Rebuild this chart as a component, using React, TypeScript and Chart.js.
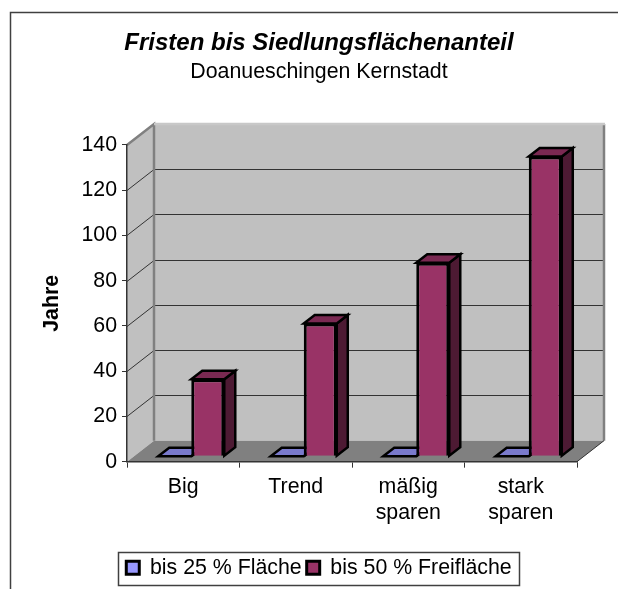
import React, { useEffect, useRef } from "react";
import { Chart, registerables } from "chart.js";

Chart.register(...registerables);

const FONT = "'Liberation Sans', Arial, sans-serif";
const categories = ["Big", "Trend", ["mäßig", "sparen"], ["stark", "sparen"]];
const seriesLow = [0, 0, 0, 0];
const seriesHigh = [34, 58.7, 85.5, 132.5];
const yTicks = [0, 20, 40, 60, 80, 100, 120, 140];

const WALL_DX = 27;
const WALL_DY = -21;
const BAR_DX = 8;
const BAR_DY = -5.5;
const DEPTH_DX = 11;
const DEPTH_DY = -8.5;

function poly(ctx: CanvasRenderingContext2D, pts: number[][], fill?: string, stroke?: string, lw = 1) {
  ctx.beginPath();
  pts.forEach((p, i) => (i ? ctx.lineTo(p[0], p[1]) : ctx.moveTo(p[0], p[1])));
  ctx.closePath();
  if (fill) { ctx.fillStyle = fill; ctx.fill(); }
  if (stroke) { ctx.strokeStyle = stroke; ctx.lineWidth = lw; ctx.lineJoin = "miter"; ctx.stroke(); }
}

function drawDepth(ctx: CanvasRenderingContext2D, meta: any, ds: any) {
  meta.data.forEach((bar: any) => {
    const x0 = bar.x - bar.width / 2, x1 = bar.x + bar.width / 2;
    const t = bar.y, b = bar.base;
    poly(ctx, [[x1, t], [x1 + DEPTH_DX, t + DEPTH_DY], [x1 + DEPTH_DX, b + DEPTH_DY], [x1, b]], ds.sideColor, "#000000", 2.5);
    poly(ctx, [[x0, t], [x0 + DEPTH_DX, t + DEPTH_DY], [x1 + DEPTH_DX, t + DEPTH_DY], [x1, t]], ds.topColor, "#000000", 2.5);
  });
}

const plugin3d = {
  id: "plugin3d",
  afterLayout(chart: any) {
    chart.boxes.forEach((b: any) => {
      if (b.position === "top" && b.options && b.options.text) {
        b.left = 0;
        b.right = 638;
      }
    });
    const l = chart.legend;
    l.left = 118;
    l.right = 520;
    l.top = 552;
    l.bottom = 586;
  },
  beforeDraw(chart: any) {
    const ctx: CanvasRenderingContext2D = chart.ctx;
    const { left, right, top, bottom } = chart.chartArea;
    const y = chart.scales.y;
    ctx.save();
    ctx.strokeStyle = "#404040";
    ctx.lineWidth = 1.5;
    ctx.beginPath();
    ctx.moveTo(10.5, 589);
    ctx.lineTo(10.5, 12.5);
    ctx.lineTo(618, 12.5);
    ctx.stroke();
    const bl = left + WALL_DX, br = right + WALL_DX, bt = top + WALL_DY, bb = bottom + WALL_DY;
    poly(ctx, [[left, top], [bl, bt], [bl, bb], [left, bottom]], "#c0c0c0");
    poly(ctx, [[bl, bt], [br, bt], [br, bb], [bl, bb]], "#c0c0c0");
    poly(ctx, [[left, bottom], [bl, bb], [br, bb], [right, bottom]], "#808080");
    ctx.strokeStyle = "#333333";
    ctx.lineWidth = 1;
    yTicks.slice(1, -1).forEach((v) => {
      const py = Math.round(y.getPixelForValue(v)) + 0.5;
      ctx.beginPath();
      ctx.moveTo(left, py);
      ctx.lineTo(bl, py + WALL_DY);
      ctx.lineTo(br, py + WALL_DY);
      ctx.stroke();
    });
    ctx.strokeStyle = "#808080";
    ctx.lineWidth = 2.5;
    ctx.beginPath();
    ctx.moveTo(left, top);
    ctx.lineTo(bl, bt);
    ctx.lineTo(bl, bb);
    ctx.stroke();
    ctx.beginPath();
    ctx.moveTo(br, bt);
    ctx.lineTo(br, bb);
    ctx.stroke();
    ctx.strokeStyle = "#c8c8c8";
    ctx.beginPath();
    ctx.moveTo(bl, bt);
    ctx.lineTo(br + 1, bt);
    ctx.stroke();
    ctx.strokeStyle = "#333333";
    ctx.lineWidth = 1;
    ctx.beginPath();
    ctx.moveTo(right, bottom);
    ctx.lineTo(br, bb);
    ctx.stroke();
    const l = chart.legend;
    ctx.fillStyle = "#ffffff";
    ctx.fillRect(l.left, l.top, l.right - l.left, l.bottom - l.top);
    ctx.strokeStyle = "#404040";
    ctx.lineWidth = 1.5;
    ctx.strokeRect(l.left + 0.5, l.top + 0.5, l.right - l.left - 1, l.bottom - l.top - 1);
    ctx.restore();
  },
  beforeDatasetDraw(chart: any, args: any) {
    if (args.index === 1) return false;
    const ctx: CanvasRenderingContext2D = chart.ctx;
    ctx.save();
    ctx.translate(BAR_DX, BAR_DY);
    drawDepth(ctx, args.meta, chart.data.datasets[args.index]);
    return true;
  },
  afterDatasetDraw(chart: any) {
    chart.ctx.restore();
    const ctx: CanvasRenderingContext2D = chart.ctx;
    const meta = chart.getDatasetMeta(1);
    ctx.save();
    ctx.translate(BAR_DX, BAR_DY);
    drawDepth(ctx, meta, chart.data.datasets[1]);
    meta.controller.draw();
    ctx.restore();
  },
};

export default function App() {
  const ref = useRef<HTMLCanvasElement>(null);
  useEffect(() => {
    document.body.style.margin = "0";
    const chart = new Chart(ref.current!, {
      type: "bar",
      data: {
        labels: categories as any,
        datasets: [
          {
            label: "bis 25 % Fläche",
            data: seriesLow,
            backgroundColor: "#9999ff",
            borderColor: "#000000",
            borderWidth: 3,
            topColor: "#7a7acc",
            sideColor: "#4d4d80",
          } as any,
          {
            label: "bis 50 % Freifläche",
            data: seriesHigh,
            backgroundColor: "#993366",
            borderColor: "#000000",
            borderWidth: 3,
            topColor: "#7a2952",
            sideColor: "#4d1a33",
          } as any,
        ],
      },
      options: {
        animation: false,
        responsive: false,
        layout: { padding: { left: 0, right: 41, top: 0, bottom: 3 } },
        datasets: { bar: { categoryPercentage: 0.587, barPercentage: 1 } },
        plugins: {
          tooltip: { enabled: false },
          title: {
            display: true,
            text: "Fristen bis Siedlungsflächenanteil",
            color: "#000000",
            font: { family: FONT, size: 24, weight: "bold", style: "italic", lineHeight: 1.2 },
            padding: { top: 28.6, bottom: 1.5 },
          },
          subtitle: {
            display: true,
            text: "Doanueschingen Kernstadt",
            color: "#000000",
            font: { family: FONT, size: 21.33, lineHeight: 1.2 },
            padding: { top: 0, bottom: 60.5 },
          },
          legend: {
            position: "bottom",
            labels: {
              color: "#000000",
              font: { family: FONT, size: 21.33 },
              boxWidth: 13,
              boxHeight: 13,
              padding: 5,
            },
          },
        },
        scales: {
          x: {
            grid: { drawOnChartArea: false, color: "#333333", tickLength: 6, offset: true },
            border: { color: "#333333", width: 1.5 },
            ticks: { color: "#000000", font: { family: FONT, size: 21.33 }, maxRotation: 0, padding: 7 },
            afterFit(s: any) { s.height = 88; },
          },
          y: {
            min: 0,
            max: 140,
            grid: { drawOnChartArea: false, color: "#333333", tickLength: 5 },
            border: { color: "#333333", width: 1.5 },
            ticks: { color: "#000000", font: { family: FONT, size: 21.33 }, stepSize: 20, padding: 5 },
            title: {
              display: true,
              text: "Jahre",
              color: "#000000",
              font: { family: FONT, size: 21.33, weight: "bold" },
              padding: { top: 39, bottom: 0 },
            },
            afterFit(s: any) { s.width = 127; },
          },
        },
      },
      plugins: [plugin3d],
    } as any);
    return () => chart.destroy();
  }, []);
  return <canvas ref={ref} width={618} height={589} style={{ display: "block" }} />;
}
